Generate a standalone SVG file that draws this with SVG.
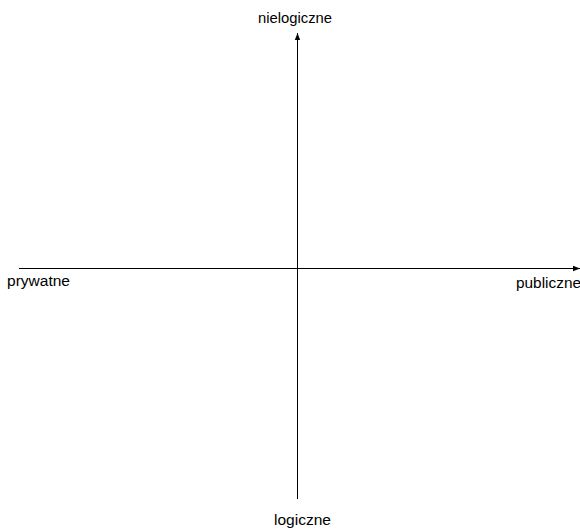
<svg xmlns="http://www.w3.org/2000/svg" width="580" height="529" viewBox="0 0 580 529">
<style>
.lbl{font-family:"Liberation Sans",Arial,sans-serif;font-size:14px;fill:#000}
.ax{stroke:#000;stroke-width:1;fill:none}
</style>
<defs>
<marker id="ah" viewBox="0 0 10 10" refX="10" refY="5" markerWidth="7" markerHeight="7" markerUnits="userSpaceOnUse" orient="auto">
<path d="M0,1.2 L10,5 L0,8.8 z" fill="#000"/>
</marker>
</defs>
<rect width="580" height="529" fill="#fff"/>
<g id="connectors">
<line class="ax" x1="297.5" y1="499" x2="297.5" y2="33" marker-end="url(#ah)"/>
<line class="ax" x1="19" y1="268.5" x2="580" y2="268.5" marker-end="url(#ah)"/>
</g>
<g id="n-nielogiczne"><text class="lbl" x="258" y="23" textLength="74" lengthAdjust="spacingAndGlyphs">nielogiczne</text></g>
<g id="n-prywatne"><text class="lbl" x="7" y="286" textLength="63" lengthAdjust="spacingAndGlyphs">prywatne</text></g>
<g id="n-publiczne"><text class="lbl" x="516" y="288" textLength="65" lengthAdjust="spacingAndGlyphs">publiczne</text></g>
<g id="n-logiczne"><text class="lbl" x="274" y="525" textLength="57" lengthAdjust="spacingAndGlyphs">logiczne</text></g>
</svg>
